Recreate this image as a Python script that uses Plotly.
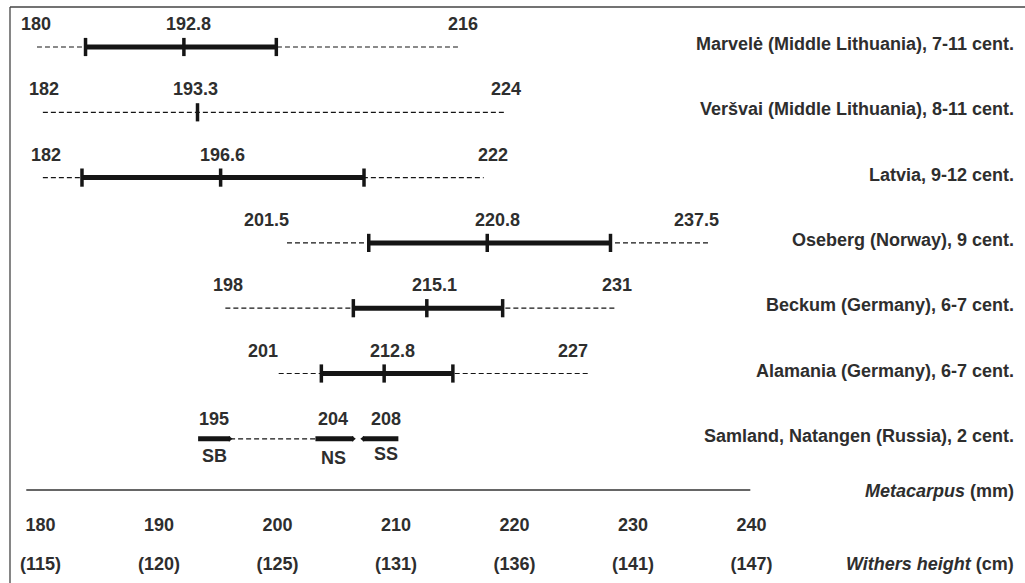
import plotly.graph_objects as go

# ---------------- data ----------------
sites = [
    "Marvelė (Middle Lithuania), 7-11 cent.",
    "Veršvai (Middle Lithuania), 8-11 cent.",
    "Latvia, 9-12 cent.",
    "Oseberg (Norway), 9 cent.",
    "Beckum (Germany), 6-7 cent.",
    "Alamania (Germany), 6-7 cent.",
    "Samland, Natangen (Russia), 2 cent.",
]
# printed values (min, mean, max) of metacarpus length, mm
label_min = ["180", "182", "182", "201.5", "198", "201"]
label_mean = ["192.8", "193.3", "196.6", "220.8", "215.1", "212.8"]
label_max = ["216", "224", "222", "237.5", "231", "227"]

# positions as drawn in the (schematic) figure, mm
range_lo = [179.7, 180.2, 180.2, 200.8, 195.6, 200.1]
bar_lo = [183.8, None, 183.5, 207.7, 206.4, 203.7]
mean_at = [192.1, 193.25, 195.2, 217.7, 212.6, 209.0]
bar_hi = [199.9, None, 207.3, 228.1, 219.0, 214.8]
range_hi = [215.4, 219.1, 217.4, 236.4, 228.5, 226.4]

# Samland, Natangen groups
sam_groups = ["SB", "NS", "SS"]
sam_labels = ["195", "204", "208"]
sam_lo = [193.3, 203.2, 207.2]
sam_hi = [196.0, 206.4, 210.2]

# axis ticks
metacarpus_ticks = [180, 190, 200, 210, 220, 230, 240]
withers_ticks = ["(115)", "(120)", "(125)", "(131)", "(136)", "(141)", "(147)"]

# ---------------- style ----------------
W, H = 1025, 583
FONT = "Liberation Sans, Arial, sans-serif"
TXT = "#2e2e2e"
INK = "#151515"
FS = 18
# small per-label horizontal nudges (px) to match the hand-set figure
nudge_min = [-1, 1, 3, -20, 3, -16]
nudge_mean = [5, -2, 2, 10, 8, 8]
nudge_max = [3, 2, 9, -12, 2, -17]
sam_top_nudge = [0, -1, 5]
sam_bot_shift = [-17, -19, -15]

fig = go.Figure()

def bold(size=FS, italic=False):
    d = dict(family=FONT, size=size, color=TXT, weight="bold")
    if italic:
        d["style"] = "italic"
    return d

ann = []
for i in range(len(range_lo)):
    # dashed full range
    fig.add_trace(go.Scatter(x=[range_lo[i], range_hi[i]], y=[i, i], mode="lines",
                             line=dict(color=INK, width=1.2, dash="5px,3px"),
                             hoverinfo="skip", showlegend=False))
    xs = [mean_at[i]]
    if bar_lo[i] is not None:
        fig.add_trace(go.Scatter(x=[bar_lo[i], bar_hi[i]], y=[i, i], mode="lines",
                                 line=dict(color=INK, width=5),
                                 hoverinfo="skip", showlegend=False))
        xs = [bar_lo[i], mean_at[i], bar_hi[i]]
    fig.add_trace(go.Scatter(x=xs, y=[i] * len(xs), mode="markers",
                             marker=dict(symbol="line-ns", size=13,
                                         line=dict(color=INK, width=3.5)),
                             hoverinfo="skip", showlegend=False))
    for txt, xv, nd in ((label_min[i], range_lo[i], nudge_min[i]),
                        (label_mean[i], mean_at[i], nudge_mean[i]),
                        (label_max[i], range_hi[i], nudge_max[i])):
        ann.append(dict(x=xv, y=i, text=txt, showarrow=False, xshift=nd, yshift=23,
                        font=bold(), xanchor="center", yanchor="middle"))

# Samland row
r = len(range_lo)
fig.add_trace(go.Scatter(x=[sam_hi[0], sam_lo[1]], y=[r, r], mode="lines",
                         line=dict(color=INK, width=1.2, dash="5px,3px"),
                         hoverinfo="skip", showlegend=False))
for k in range(len(sam_groups)):
    fig.add_trace(go.Scatter(x=[sam_lo[k], sam_hi[k]], y=[r, r], mode="lines",
                             line=dict(color=INK, width=5),
                             hoverinfo="skip", showlegend=False))
    mid = (sam_lo[k] + sam_hi[k]) / 2
    ann.append(dict(x=mid, y=r, text=sam_labels[k], showarrow=False,
                    xshift=sam_top_nudge[k], yshift=20, font=bold()))
    ann.append(dict(x=mid, y=r, text=sam_groups[k], showarrow=False,
                    xshift=sam_top_nudge[k], yshift=sam_bot_shift[k], font=bold()))
# slightly tapered tips of the Samland bars
fig.add_trace(go.Scatter(x=[sam_hi[0], sam_hi[1]], y=[r, r], mode="markers",
                         marker=dict(symbol="triangle-right", size=5, color=INK),
                         hoverinfo="skip", showlegend=False))
fig.add_trace(go.Scatter(x=[sam_lo[2]], y=[r], mode="markers",
                         marker=dict(symbol="triangle-left", size=5, color=INK),
                         hoverinfo="skip", showlegend=False))

# site names on the right
for i, s in enumerate(sites):
    ann.append(dict(x=1016 / W, xref="paper", y=i, yref="y", text=s, showarrow=False,
                    xanchor="right", yanchor="middle", yshift=3, font=bold()))

ann.append(dict(x=1016 / W, xref="paper", y=0, yref="paper", yshift=-1,
                text="<i>Metacarpus</i> (mm)", showarrow=False,
                xanchor="right", yanchor="middle", font=bold()))
ann.append(dict(x=1016 / W, xref="paper", y=(490 - 564) / 490, yref="paper",
                text="<i>Withers height</i> (cm)", showarrow=False,
                xanchor="right", yanchor="middle", font=bold()))

# axis baseline, frame
shapes = [
    dict(type="line", xref="x", yref="paper", x0=178.8, x1=239.9, y0=0, y1=0,
         line=dict(color="#333", width=1.5)),
    dict(type="line", xref="paper", yref="paper", x0=10 / W, x1=10 / W,
         y0=1 - 7 / 490, y1=-93 / 490, line=dict(color="#444", width=1.3)),
    dict(type="line", xref="paper", yref="paper", x0=10 / W, x1=1.0,
         y0=1 - 7 / 490, y1=1 - 7 / 490, line=dict(color="#444", width=1.3)),
]

px_per_mm = 11.85
x0 = 180 - 40.5 / px_per_mm
x1 = 180 + (W - 40.5) / px_per_mm
row_px = 65.3
y_top = -47 / row_px
y_bot = (490 - 47) / row_px

fig.update_layout(
    width=W, height=H,
    margin=dict(l=0, r=0, t=0, b=93),
    paper_bgcolor="white", plot_bgcolor="white",
    showlegend=False,
    xaxis=dict(range=[x0, x1], showgrid=False, zeroline=False, showline=False,
               tickvals=metacarpus_ticks, ticktext=[str(t) for t in metacarpus_ticks],
               ticks="", tickfont=bold(), ticklabelstandoff=22, fixedrange=True),
    xaxis2=dict(range=[x0, x1], overlaying="x", side="bottom", anchor="y",
                showgrid=False, zeroline=False, showline=False,
                tickvals=metacarpus_ticks, ticktext=withers_ticks,
                ticks="", tickfont=bold(), ticklabelstandoff=61, fixedrange=True),
    yaxis=dict(range=[y_bot, y_top], visible=False, fixedrange=True),
    annotations=ann,
    shapes=shapes,
)
# invisible point to activate xaxis2
fig.add_trace(go.Scatter(x=[metacarpus_ticks[0]], y=[y_bot + 5], xaxis="x2", mode="markers",
                         marker=dict(opacity=0), hoverinfo="skip", showlegend=False))

fig.write_html("out.html", config={"displayModeBar": False},
               post_script="document.body.style.margin='0';document.body.style.overflow='hidden';")
